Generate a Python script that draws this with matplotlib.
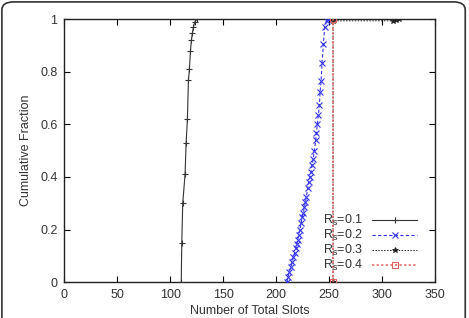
import matplotlib
matplotlib.use("Agg")
import matplotlib.pyplot as plt
from matplotlib.patches import FancyBboxPatch

plt.rcParams['font.family'] = ['Liberation Sans', 'DejaVu Sans']

# Data
rs1_x = [110.3, 110.8, 111.7, 113.9, 114.9, 116.1, 117.1, 118.0, 119.0, 119.9, 120.9, 121.8, 123.0, 125.0]
rs1_y = [0.0, 0.15, 0.30, 0.41, 0.53, 0.62, 0.77, 0.81, 0.88, 0.92, 0.95, 0.97, 0.99, 1.0]

rs2_x = [210.3, 211.2, 212.5, 214.0, 215.3, 216.2, 217.5, 218.8, 219.4, 220.3, 221.3, 222.2,
         223.5, 224.7, 225.7, 226.6, 227.6, 228.5, 229.8, 231.0, 232.0, 232.9, 233.9, 234.8,
         236.1, 237.3, 238.0, 238.9, 239.8, 240.8, 241.4, 242.4, 243.3, 244.6, 245.8, 247.7, 249.3]
rs2_y = [0.0, 0.02, 0.039, 0.058, 0.077, 0.096, 0.112, 0.128, 0.143, 0.16, 0.179, 0.198,
         0.223, 0.249, 0.264, 0.284, 0.306, 0.325, 0.357, 0.382, 0.401, 0.42, 0.445, 0.467,
         0.5, 0.541, 0.566, 0.602, 0.636, 0.674, 0.722, 0.765, 0.835, 0.906, 0.972, 0.995, 1.0]

rs3_x = [253.7, 253.7, 310.0, 313.0, 316.0]
rs3_y = [0.0, 0.995, 0.995, 0.998, 1.0]

rs4_x = [253.7, 253.7]
rs4_y = [0.0, 1.0]

labels = [r'$\mathregular{R_s}$=0.1', r'$\mathregular{R_s}$=0.2',
          r'$\mathregular{R_s}$=0.3', r'$\mathregular{R_s}$=0.4']
xticks = [0, 50, 100, 150, 200, 250, 300, 350]
yticks = [0, 0.2, 0.4, 0.6, 0.8, 1]
ytick_labels = ['0', '0.2', '0.4', '0.6', '0.8', '1']

fig = plt.figure(figsize=(4.69, 3.18), dpi=100)
border = FancyBboxPatch((0.004, -0.05), 0.988, 1.044, boxstyle="round,pad=0,rounding_size=0.025",
                        transform=fig.transFigure, fill=False, edgecolor='#333333', linewidth=1.2)
fig.patches.append(border)

ax = fig.add_axes([0.1375, 0.1132, 0.79, 0.8255])

dots = (0, (1.5, 1.5))
ax.plot(rs1_x, rs1_y, color='#333333', lw=0.8, marker='+', ms=5, mew=0.8, label=labels[0], zorder=3)
ax.plot(rs2_x, rs2_y, color='#3333ee', lw=0.8, ls=(0, (3, 2)), marker='x', ms=4.5, mew=0.8,
        label=labels[1], zorder=3)
ax.plot(rs3_x, rs3_y, color='#222222', lw=0.7, ls=dots, marker='*', ms=4, mew=0.6,
        label=labels[2], zorder=2)
ax.plot(rs4_x, rs4_y, color='#e25f5f', lw=1.1, ls=dots, marker='s', ms=5, mew=0.8,
        mfc='none', label=labels[3], zorder=4)

ax.set_xlim(0, 350)
ax.set_ylim(0, 1)
ax.set_xticks(xticks)
ax.set_xticklabels([str(t) for t in xticks])
ax.set_yticks(yticks)
ax.set_yticklabels(ytick_labels)
ax.tick_params(direction='in', top=True, right=True, length=4, width=0.8,
               labelsize=9, labelcolor='#333333', pad=5)
for s in ax.spines.values():
    s.set_linewidth(1.0)
    s.set_color('#222222')

ax.set_xlabel('Number of Total Slots', fontsize=9, color='#333333', labelpad=3)
ax.set_ylabel('Cumulative Fraction', fontsize=9, color='#333333', labelpad=6)

leg = ax.legend(loc='lower right', frameon=False, markerfirst=False, fontsize=9,
                handlelength=3.6, handletextpad=0.7, labelspacing=0.0, handleheight=0.5,
                borderaxespad=0.0, bbox_to_anchor=(0.965, 0.015))
for t in leg.get_texts():
    t.set_color('#333333')

fig.savefig('out.png', dpi=100)
